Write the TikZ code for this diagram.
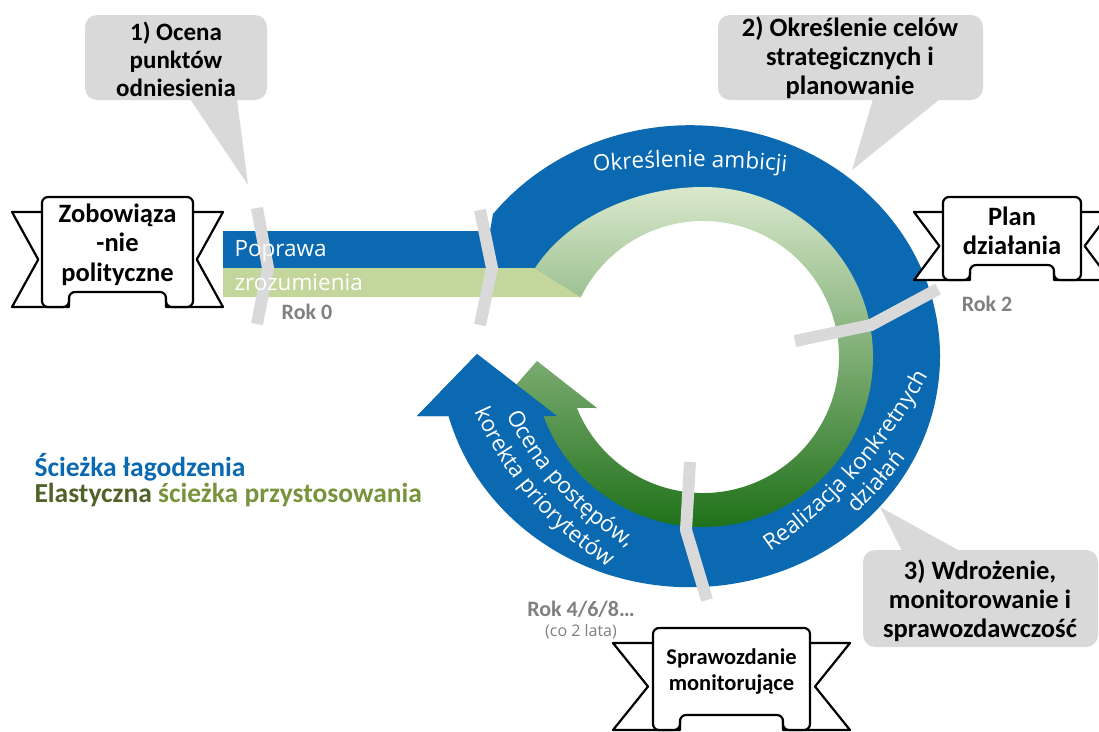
\documentclass[tikz,border=0pt]{standalone}
\usepackage{fontspec}
\setmainfont{Carlito}
\newfontfamily\segoe{Open Sans}
\usetikzlibrary{calc,decorations.text}

\definecolor{ringblue}{HTML}{0A69B0}
\definecolor{bargreen}{HTML}{C3D69B}
\definecolor{greentop}{HTML}{DAE8CC}
\definecolor{greenmid}{HTML}{A6C589}
\definecolor{greenlow}{HTML}{1F711A}
\definecolor{markgray}{HTML}{D9D9D9}
\definecolor{rokgray}{HTML}{808080}
\definecolor{olivedark}{HTML}{4F6228}
\definecolor{olivelight}{HTML}{77933C}

\newcommand{\ringfont}{\segoe\fontsize{22.5}{26}\selectfont}

\tikzset{
  bubble/.style={fill=markgray},
  bubbletext/.style={align=center, font=\bfseries\fontsize{26.5}{29}\selectfont},
  ribbonline/.style={draw=black, fill=white, line width=2.2pt, line join=round},
  ribbontext/.style={align=center, font=\bfseries\fontsize{26.5}{29.5}\selectfont},
  yearmark/.style={draw=markgray, line width=12pt},
  yeartext/.style={text=rokgray, font=\bfseries\fontsize{22}{24}\selectfont},
  ringtext/.style={decorate, decoration={text along path, text align=center}},
  bartext/.style={anchor=west, text=white, font=\ringfont},
}

% #1 font, #2 left, #3 right, #4 top, #5 bottom, #6 tail, #7 name, #8 text
\newcommand{\ribbonbanner}[8][]{%
  \filldraw[ribbonline] ({#2},{#4+15}) -- ({#2-#6},{#4+15}) -- ({#2-#6/8},{(#4+#5)/2+15})
    -- ({#2-#6},{#5+15}) -- ({#2+27},{#5+15}) -- ({#2+27},{#5}) -- cycle;
  \filldraw[ribbonline] ({#3},{#4+15}) -- ({#3+#6},{#4+15}) -- ({#3+#6/8},{(#4+#5)/2+15})
    -- ({#3+#6},{#5+15}) -- ({#3-27},{#5+15}) -- ({#3-27},{#5}) -- cycle;
  \filldraw[ribbonline, rounded corners=6pt] ({(#2+#3)/2},{#4}) -- ({#3},{#4}) -- ({#3},{#5+15})
    -- ({#3-27},{#5+15}) -- ({#3-27},{#5}) -- ({#2+27},{#5}) -- ({#2+27},{#5+15})
    -- ({#2},{#5+15}) -- ({#2},{#4}) -- cycle;
  \node[ribbontext,#1] (#7) at ({(#2+#3)/2},{(#4+#5)/2}) {#8};
}

\begin{document}
\begin{tikzpicture}[x=1pt, y=-1pt]
\useasboundingbox (0,0) rectangle (1099,731);

\coordinate (c) at (703,357);

% speech bubbles
\fill[bubble, rounded corners=12pt] (85,15) rectangle (267,100);
\fill[bubble] (190,99) -- (237,99) -- (248,185) -- cycle;
\node[bubbletext, font=\bfseries\fontsize{25}{28}\selectfont] (step1) at (176,59) {1) Ocena\\punktów\\odniesienia};

\fill[bubble, rounded corners=12pt] (718,15) rectangle (983,100);
\fill[bubble] (873,99) -- (940,99) -- (852,170) -- cycle;
\node[bubbletext] (step2) at (850,58) {2) Określenie celów\\strategicznych i\\planowanie};

\fill[bubble, rounded corners=12pt] (863,550) rectangle (1098,647);
\fill[bubble] (902,551) -- (960,551) -- (880,507) -- cycle;
\node[bubbletext] (step3) at (980,601) {3) Wdrożenie,\\monitorowanie i\\sprawozdawczość};

% mitigation path
\fill[ringblue] (223,231) -- (490,231) -- (493,214)
  arc[start angle=-142, end angle=165, x radius=250, y radius=231]
  -- (417,416) -- (477,354) -- (557,416)
  -- ($(c)+(158:155)$) arc[start angle=158, end angle=-155, radius=155]
  -- (487,268) -- (223,268) -- cycle;

% adaptation path
\fill[bargreen] (223,268) -- (535,268) -- (581,297) -- (223,297) -- cycle;
\shade[top color=greentop, middle color=greenmid, bottom color=greenlow]
  (535,268) .. controls (570,215) and (640,187) .. (703,187)
  arc[start angle=-90, end angle=160, radius=170]
  -- (492,412) -- (537,361) -- (597,408)
  -- ($(c)+(158:136)$) arc[start angle=158, end angle=-154, radius=136] -- cycle;
\fill[ringblue] (417,416) -- (477,354) -- (557,416) -- cycle;

% year marks
\draw[yearmark] (257,208) -- (268,268) -- (257,324);
\draw[yearmark] (480,210) -- (492,268) -- (480,325);
\draw[yearmark] (795,341) -- (871,325) -- (938,289);
\draw[yearmark] (690,462) -- (686,530) -- (707,600);

% texts on the ring
\path[ringtext, decoration={text={|\ringfont\color{white}|Określenie ambicji}}]
  ($(690,1167)+(-97:1000)$) arc[start angle=-97, end angle=-83, radius=1000];
\path[ringtext, decoration={text={|\ringfont\color{white}|Realizacja konkretnych}}]
  ($(482,133)+(60:508)$) arc[start angle=60, end angle=24, radius=508];
\path[ringtext, decoration={text={|\ringfont\color{white}|działań}}]
  ($(482,133)+(58:534)$) arc[start angle=58, end angle=25, radius=534];
\path[ringtext, decoration={text={|\ringfont\color{white}|Ocena postępów,}}]
  ($(799,269)+(172:327)$) arc[start angle=172, end angle=103, radius=327];
\path[ringtext, decoration={text={|\ringfont\color{white}|korekta priorytetów}}]
  ($(799,269)+(174:354)$) arc[start angle=174, end angle=105, radius=354];

\node[bartext] (improve) at (231,251) {Poprawa};
\node[bartext] (understand) at (231,282) {zrozumienia};

% banners
\ribbonbanner{42}{193}{197}{292}{30}{commit}{Zobowiąza\\-nie\\polityczne}
\ribbonbanner{943}{1081}{197}{265}{29}{plan}{Plan\\działania}
\ribbonbanner[font=\bfseries\fontsize{22.5}{26}\selectfont]{653}{810}{628}{715}{40}{report}{Sprawozdanie\\monitorujące}

% years
\node[yeartext] (rok0) at (307,312) {Rok 0};
\node[yeartext] (rok2) at (987,304) {Rok 2};
\node[yeartext] (rok4) at (581,609) {Rok 4/6/8…};
\node[text=rokgray, font=\segoe\fontsize{16}{18}\selectfont] (every2) at (581,632) {(co 2 lata)};

% legend
\node[anchor=west, text=ringblue, font=\bfseries\fontsize{27.5}{31}\selectfont] (mitig) at (31,467) {Ścieżka łagodzenia};
\node[anchor=west, font=\bfseries\fontsize{27.5}{31}\selectfont] (adapt) at (31,495)
  {\textcolor{olivedark}{Elastyczna} \textcolor{olivelight}{ścieżka przystosowania}};
\end{tikzpicture}
\end{document}
